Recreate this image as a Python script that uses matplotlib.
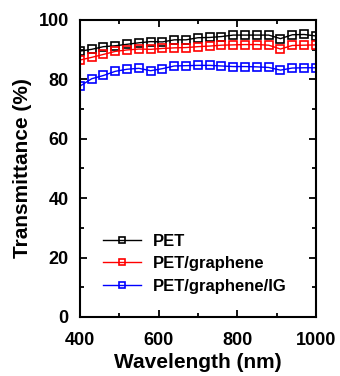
import matplotlib
matplotlib.use("Agg")
import matplotlib.pyplot as plt
from matplotlib.ticker import MultipleLocator

plt.rcParams["font.family"] = ["Liberation Sans", "DejaVu Sans"]
plt.rcParams["font.weight"] = "bold"

# wavelength (nm) and transmittance (%)
wavelength = [400, 430, 460, 490, 520, 550, 580, 610, 640, 670, 700,
              730, 760, 790, 820, 850, 880, 910, 940, 970, 1000]
pet = [89.5, 90.1, 91.0, 91.3, 91.8, 92.3, 92.7, 92.6, 93.3, 93.3, 94.0,
       94.1, 94.4, 94.9, 94.9, 94.9, 94.9, 93.7, 95.0, 95.1, 94.6]
pet_graphene = [86.5, 87.4, 88.4, 89.4, 89.9, 90.2, 90.1, 90.4, 90.6, 90.7, 91.0,
                91.2, 91.5, 91.6, 91.7, 91.7, 91.5, 90.2, 91.4, 91.5, 91.6]
pet_graphene_ig = [77.7, 80.2, 81.3, 82.7, 83.4, 83.7, 82.9, 83.6, 84.5, 84.6, 84.7,
                   84.7, 84.5, 84.3, 84.3, 84.2, 84.0, 83.1, 83.8, 83.9, 83.9]

series = [
    ("PET", pet, "black"),
    ("PET/graphene", pet_graphene, "#ff0000"),
    ("PET/graphene/IG", pet_graphene_ig, "#0000ff"),
]

fig = plt.figure(figsize=(3.4, 3.76), dpi=100)
ax = fig.add_axes([0.235, 0.157, 0.694, 0.79])

for label, vals, color in series:
    ax.plot(wavelength, vals, color=color, lw=1.0, marker="s", ms=6,
            mfc="none", mec=color, mew=1.2, label=label)

ax.set_xlim(400, 1000)
ax.set_ylim(0, 100)
ax.xaxis.set_major_locator(MultipleLocator(200))
ax.xaxis.set_minor_locator(MultipleLocator(100))
ax.yaxis.set_major_locator(MultipleLocator(20))
ax.yaxis.set_minor_locator(MultipleLocator(10))
ax.tick_params(which="both", direction="in", top=True, right=True, width=1.3,
               labelsize=13)
ax.tick_params(axis="x", which="major", pad=11)
ax.tick_params(axis="y", which="major", pad=8)
ax.tick_params(which="major", length=5)
ax.tick_params(which="minor", length=3)
for s in ax.spines.values():
    s.set_linewidth(1.5)

ax.set_xlabel("Wavelength (nm)", fontsize=15, fontweight="bold", labelpad=3)
ax.set_ylabel("Transmittance (%)", fontsize=15, fontweight="bold", labelpad=5)

ax.legend(loc="lower left", bbox_to_anchor=(0.07, 0.056), frameon=False,
          fontsize=12, markerscale=0.65, handlelength=2.3, handletextpad=0.7,
          labelspacing=0.45, borderaxespad=0)

fig.savefig("out.png", dpi=100)
